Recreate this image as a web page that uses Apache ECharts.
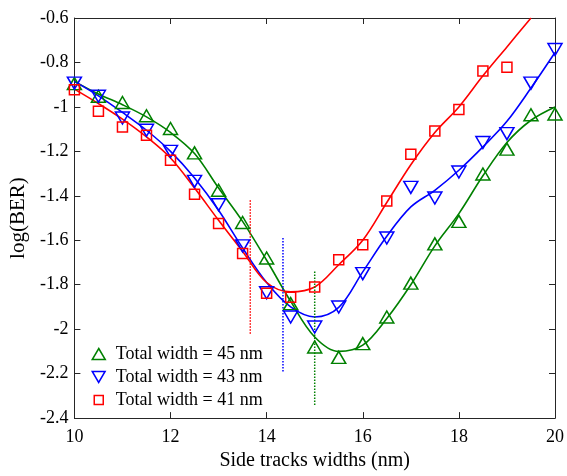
<!DOCTYPE html>
<html>
<head>
<meta charset="utf-8">
<script src="https://cdn.jsdelivr.net/npm/echarts@6/dist/echarts.min.js"></script>
<style>html,body{margin:0;padding:0;background:#fff}#c{width:567px;height:476px}</style>
</head>
<body>
<div id="c"></div>
<script>
// ---- data ----
const xPoints = [10, 10.5, 11, 11.5, 12, 12.5, 13, 13.5, 14, 14.5, 15, 15.5, 16, 16.5, 17, 17.5, 18, 18.5, 19, 19.5, 20];
const ber45 = [-0.895, -0.952, -0.98, -1.04, -1.097, -1.207, -1.375, -1.52, -1.68, -1.885, -2.08, -2.127, -2.065, -1.945, -1.793, -1.616, -1.515, -1.302, -1.19, -1.035, -1.032];
const ber43 = [-0.893, -0.952, -1.05, -1.105, -1.2, -1.335, -1.44, -1.625, -1.836, -1.945, -1.99, -1.9, -1.75, -1.59, -1.362, -1.41, -1.293, -1.16, -1.12, -0.893, -0.742];
const ber41 = [-0.923, -1.02, -1.09, -1.128, -1.24, -1.393, -1.524, -1.66, -1.838, -1.856, -1.81, -1.688, -1.62, -1.423, -1.213, -1.108, -1.012, -0.838, -0.822];

const xFit = [10, 10.5, 11, 11.5, 12, 12.5, 13, 13.5, 14, 14.5, 15, 15.5, 16, 16.5, 17, 17.5, 18, 18.5, 19, 19.5, 20];
const fit45 = [-0.885, -0.942, -0.99, -1.045, -1.115, -1.21, -1.365, -1.515, -1.69, -1.875, -2.035, -2.1, -2.072, -1.952, -1.8, -1.625, -1.48, -1.31, -1.16, -1.06, -1.0];
const fit43 = [-0.885, -0.95, -1.025, -1.105, -1.2, -1.32, -1.465, -1.635, -1.79, -1.9, -1.945, -1.902, -1.742, -1.582, -1.45, -1.375, -1.285, -1.18, -1.065, -0.915, -0.755];
const fit41 = [-0.92, -0.985, -1.055, -1.135, -1.23, -1.365, -1.51, -1.65, -1.79, -1.832, -1.81, -1.71, -1.6, -1.43, -1.26, -1.115, -1.0, -0.86, -0.73, -0.6];

// vertical dotted markers (45 nm, 43 nm, 41 nm)
const dotX = [15.0, 14.34, 13.66];
const dotTop = [-1.74, -1.59, -1.42];
const dotBottom = [-2.345, -2.19, -2.02];

const names = ['Total width = 45 nm', 'Total width = 43 nm', 'Total width = 41 nm'];
const colors = ['#008000', '#0000ff', '#ff0000'];
const xName = 'Side tracks widths (nm)';
const yName = 'log(BER)';

// ---- chart ----
const FONT = "'Liberation Serif', 'Times New Roman', serif";
const AX = '#262626';
const invTri = 'path://M0,0L14,0L7,12Z';
const symbols = ['triangle', invTri, 'rect'];
const sizes = [[14, 12], [14, 12], [10, 10]];
const pointSets = [ber45, ber43, ber41];
const fitSets = [fit45, fit43, fit41];

const pair = (xs, ys) => ys.map((y, i) => [xs[i], y]);

const series = [];
fitSets.forEach((f, i) => {
  series.push({
    type: 'line', data: pair(xFit, f), showSymbol: false, smooth: 0.35,
    lineStyle: { color: colors[i], width: 1.6 }, silent: true, z: 2
  });
});
[0, 1, 2].forEach(i => {
  series.push({
    type: 'line', data: [[dotX[i], dotTop[i]], [dotX[i], dotBottom[i]]], showSymbol: false,
    lineStyle: { color: colors[i], width: 1.5, type: [1.5, 1.5] }, silent: true, z: 2
  });
});
pointSets.forEach((p, i) => {
  series.push({
    name: names[i], type: 'scatter', data: pair(xPoints, p),
    symbol: symbols[i], symbolSize: sizes[i],
    itemStyle: { color: 'rgba(0,0,0,0)', borderColor: colors[i], borderWidth: 1.5, opacity: 1 },
    z: 3
  });
});

const legendRows = [354, 377, 400];
const legendSizes = [[13, 11], [13, 11], [9, 9]];
const legends = names.map((n, i) => ({
  data: [{ name: n, icon: symbols[i] }],
  left: 98 - legendSizes[i][0] / 2, top: legendRows[i] - 9, padding: 0,
  itemWidth: legendSizes[i][0], itemHeight: legendSizes[i][1],
  selectedMode: false,
  itemStyle: { color: 'rgba(0,0,0,0)', borderColor: colors[i], borderWidth: 1.5 },
  textStyle: { fontFamily: FONT, fontSize: 18, color: '#000', lineHeight: 18,
    padding: [0, 0, 0, 12 - legendSizes[i][0] / 2] }
}));

const axCommon = {
  axisLine: { show: true, lineStyle: { color: AX, width: 1 } },
  axisTick: { show: true, inside: true, length: 6, lineStyle: { color: AX } },
  splitLine: { show: false }
};

const option = {
  animation: false,
  backgroundColor: '#fff',
  textStyle: { fontFamily: FONT },
  grid: { left: 67, right: 9, top: 18, bottom: 53, containLabel: false },
  legend: legends,
  xAxis: [
    Object.assign({ type: 'value', min: 10, max: 20, interval: 2, position: 'bottom',
      name: xName, nameLocation: 'middle', nameGap: 31,
      nameTextStyle: { fontFamily: FONT, fontSize: 20, color: '#000' },
      axisLabel: { fontFamily: FONT, fontSize: 18, color: '#000', margin: 10 } }, axCommon),
    Object.assign({ type: 'value', min: 10, max: 20, interval: 2, position: 'top',
      axisLabel: { show: false } }, axCommon)
  ],
  yAxis: [
    Object.assign({ type: 'value', min: -2.4, max: -0.6, interval: 0.2, position: 'left',
      name: yName, nameLocation: 'middle', nameGap: 35,
      nameTextStyle: { fontFamily: FONT, fontSize: 21, color: '#000' },
      axisLabel: { fontFamily: FONT, fontSize: 18, color: '#000', margin: 6 } }, axCommon),
    Object.assign({ type: 'value', min: -2.4, max: -0.6, interval: 0.2, position: 'right',
      axisLabel: { show: false } }, axCommon)
  ],
  series: series
};

const chart = echarts.init(document.getElementById('c'), null, { renderer: 'canvas' });
chart.setOption(option);
</script>
</body>
</html>
